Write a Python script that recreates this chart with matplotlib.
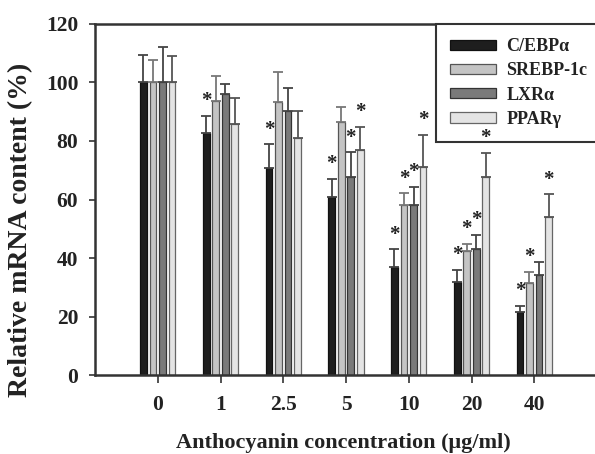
import matplotlib
matplotlib.use("Agg")
import matplotlib.pyplot as plt
import numpy as np

concentrations = ["0", "1", "2.5", "5", "10", "20", "40"]
series_names = ["C/EBP\u03b1", "SREBP-1c", "LXR\u03b1", "PPAR\u03b3"]
cebp = [100, 82.6, 70.6, 61.0, 36.9, 31.7, 21.6]
cebp_err = [9.2, 5.9, 8.2, 6.1, 6.1, 4.2, 2.1]
srebp = [100, 93.5, 93.2, 86.6, 58.1, 42.5, 31.4]
srebp_err = [7.6, 8.6, 10.2, 5.1, 4.0, 2.3, 4.0]
lxr = [100, 95.9, 90.1, 67.8, 58.1, 43.1, 34.1]
lxr_err = [12.1, 3.6, 8.1, 8.3, 6.3, 4.9, 4.7]
ppar = [100, 85.8, 80.9, 76.8, 71.0, 67.7, 53.9]
ppar_err = [8.9, 8.9, 9.2, 8.0, 11.0, 8.3, 7.9]
# significance flags (1 = asterisk)
cebp_sig = [0, 1, 1, 1, 1, 1, 1]
srebp_sig = [0, 0, 0, 0, 1, 1, 1]
lxr_sig = [0, 0, 0, 1, 1, 1, 0]
ppar_sig = [0, 0, 0, 1, 1, 1, 1]

values = [cebp, srebp, lxr, ppar]
errors = [cebp_err, srebp_err, lxr_err, ppar_err]
sigs = [cebp_sig, srebp_sig, lxr_sig, ppar_sig]
colors = ["#1e1e1e", "#c4c4c4", "#7a7a7a", "#e4e4e4"]
edges = ["#111111", "#555555", "#333333", "#666666"]
errcolors = ["#444444", "#777777", "#444444", "#555555"]

FONT = "Liberation Serif"
plt.rcParams["font.family"] = [FONT, "DejaVu Serif"]

fig = plt.figure(figsize=(5.95, 4.54), dpi=100)
W, H = 595, 454
left, right, top, bottom = 95, 597, 23.7, 375.3
ax = fig.add_axes([left / W, 1 - bottom / H, (right - left) / W, (bottom - top) / H])

x = np.arange(len(concentrations))
spacing = 0.1515
width = 0.104
offsets = [-1.5, -0.5, 0.5, 1.5]
for i in range(4):
    xs = x + offsets[i] * spacing
    ax.bar(xs, values[i], width=width, color=colors[i], edgecolor=edges[i],
           linewidth=0.9, label=series_names[i], zorder=2)
    ax.errorbar(xs, values[i], yerr=[np.zeros(len(x)), errors[i]], fmt="none",
                ecolor=errcolors[i], elinewidth=1.3, capsize=3.5, capthick=1.3, zorder=3)
    for j in range(len(x)):
        if sigs[i][j]:
            ax.text(xs[j], values[i][j] + errors[i][j] + 1.6, "*", ha="center", va="bottom",
                    fontsize=15, fontweight="bold", family=FONT, color="#222222", zorder=10)

ax.set_xlim(-1, 7)
ax.set_ylim(0, 120)
ax.set_yticks(np.arange(0, 121, 20))
ax.set_xticks(x)
ax.set_xticklabels(concentrations)
for lab in ax.get_xticklabels() + ax.get_yticklabels():
    lab.set_fontweight("bold")
    lab.set_fontsize(15.5)
    lab.set_color("#222222")
ax.tick_params(axis="x", direction="out", length=5.5, width=1.2, pad=9, color="#333333")
ax.tick_params(axis="y", direction="out", length=4, width=1.2, pad=8, color="#333333")
for s in ax.spines.values():
    s.set_linewidth(1.8)
    s.set_color("#333333")

ax.set_ylabel("Relative mRNA content (%)", fontsize=20, fontweight="bold", color="#222222")
ax.yaxis.set_label_coords(-0.124, 0.413)
ax.set_xlabel("Anthocyanin concentration (\u03bcg/ml)", fontsize=16, fontweight="bold", color="#222222")
ax.xaxis.set_label_coords(0.494, -0.165)

leg = ax.legend(loc="upper left", bbox_to_anchor=((436 - left) / (right - left), 1.0),
                borderaxespad=0, frameon=True, fancybox=False, framealpha=1, handlelength=2.5,
                handleheight=0.5, handletextpad=0.6, labelspacing=0.4, borderpad=0.8,
                prop={"family": FONT, "weight": "bold", "size": 13})
leg.set_zorder(5)
leg.get_frame().set_edgecolor("#333333")
leg.get_frame().set_linewidth(1.5)
for t in leg.get_texts():
    t.set_color("#222222")

fig.savefig("out.png", dpi=100)
